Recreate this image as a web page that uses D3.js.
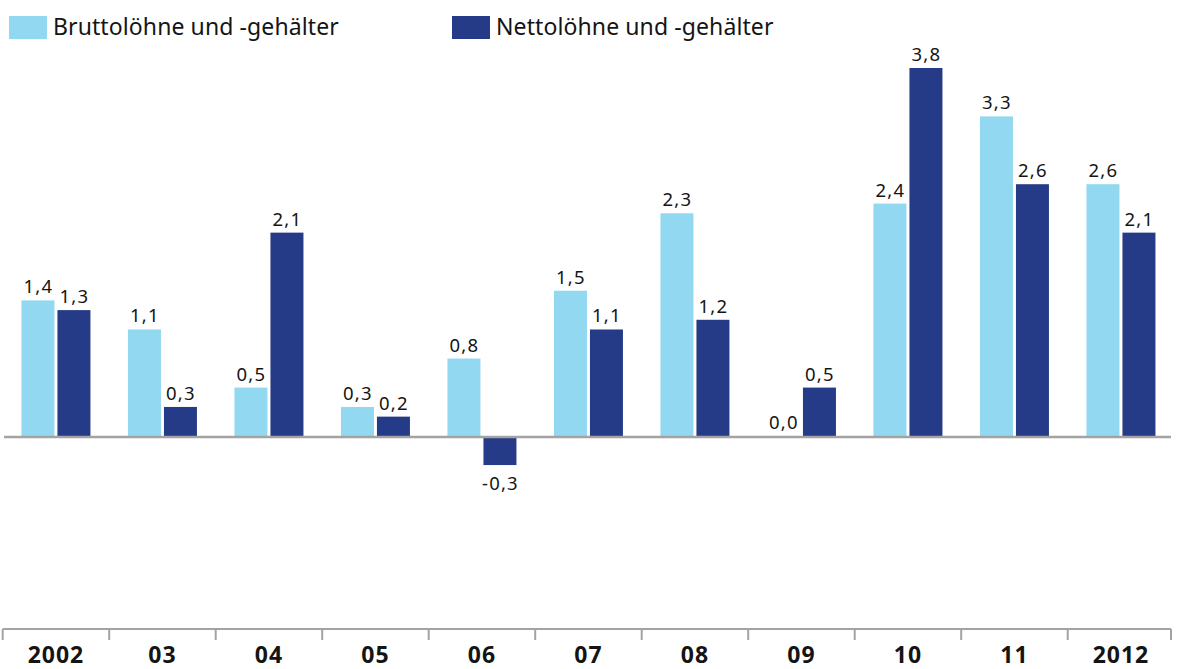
<!DOCTYPE html>
<html>
<head>
<meta charset="utf-8">
<script src="https://cdn.jsdelivr.net/npm/d3@7"></script>
<style>
  body { margin: 0; background: #fff; }
  svg text { font-family: "Noto Sans", sans-serif; fill: #141414; }
</style>
</head>
<body>
<svg id="chart" width="1177" height="669"></svg>
<script>
const years = ["2002", "03", "04", "05", "06", "07", "08", "09", "10", "11", "2012"];
const brutto = [1.4, 1.1, 0.5, 0.3, 0.8, 1.5, 2.3, 0.0, 2.4, 3.3, 2.6];
const netto = [1.3, 0.3, 2.1, 0.2, -0.3, 1.1, 1.2, 0.5, 3.8, 2.6, 2.1];
const seriesNames = ["Bruttolöhne und -gehälter", "Nettolöhne und -gehälter"];
const colors = ["#92d8f0", "#263b87"];

const svg = d3.select("#chart");

const x = d3.scaleBand().domain(years).range([2.7, 1174.2]).padding(0);
const y = d3.scaleLinear().domain([0, 3.8]).range([436, 68]);

const barW = 33;
const gap = 3;
const fmt = (v) => v.toFixed(1).replace(".", ",");

// bars per series
[brutto, netto].forEach((vals, s) => {
  const g = svg.append("g");
  const off = s === 0 ? -gap / 2 - barW : gap / 2;

  g.selectAll("rect")
    .data(vals)
    .join("rect")
    .attr("x", (d, i) => x(years[i]) + x.bandwidth() / 2 + off)
    .attr("y", (d) => y(Math.max(0, d)))
    .attr("width", barW)
    .attr("height", (d) => Math.abs(y(d) - y(0)))
    .attr("fill", colors[s]);

  g.selectAll("text")
    .data(vals)
    .join("text")
    .attr("x", (d, i) => x(years[i]) + x.bandwidth() / 2 + off + barW / 2 + 0.5)
    .attr("y", (d) => (d < 0 ? y(d) + 25 : y(d) - 7))
    .attr("text-anchor", "middle")
    .style("font-size", "18.5px")
    .style("letter-spacing", "1.2px")
    .text((d) => fmt(d));
});

// zero line
svg.append("line")
  .attr("x1", 4).attr("x2", 1171)
  .attr("y1", y(0) + 1).attr("y2", y(0) + 1)
  .attr("stroke", "#a3a3a3")
  .attr("stroke-width", 2.5);

// category axis at bottom
const axisY = 629;
const ax = svg.append("g");
ax.append("line")
  .attr("x1", 2.7).attr("x2", 1171)
  .attr("y1", axisY).attr("y2", axisY)
  .attr("stroke", "#a3a3a3").attr("stroke-width", 2);

const bounds = years.map((d) => x(d)).concat([1171]);
ax.selectAll("line.tick")
  .data(bounds)
  .join("line")
  .attr("class", "tick")
  .attr("x1", (d) => d).attr("x2", (d) => d)
  .attr("y1", axisY).attr("y2", axisY + 11)
  .attr("stroke", "#a3a3a3").attr("stroke-width", 2);

ax.selectAll("text")
  .data(years)
  .join("text")
  .attr("x", (d) => x(d) + x.bandwidth() / 2)
  .attr("y", 663)
  .attr("text-anchor", "middle")
  .style("font-size", "23px")
  .style("font-weight", "bold")
  .style("letter-spacing", "1px")
  .text((d) => d);

// legend
const legendX = [9, 452];
const leg = svg.append("g");
seriesNames.forEach((name, i) => {
  leg.append("rect")
    .attr("x", legendX[i]).attr("y", 16)
    .attr("width", 38).attr("height", 23)
    .attr("fill", colors[i]);
  leg.append("text")
    .attr("x", legendX[i] + 44).attr("y", 35)
    .style("font-size", "23px")
    .style("letter-spacing", "0.1px")
    .text(name);
});
</script>
</body>
</html>
